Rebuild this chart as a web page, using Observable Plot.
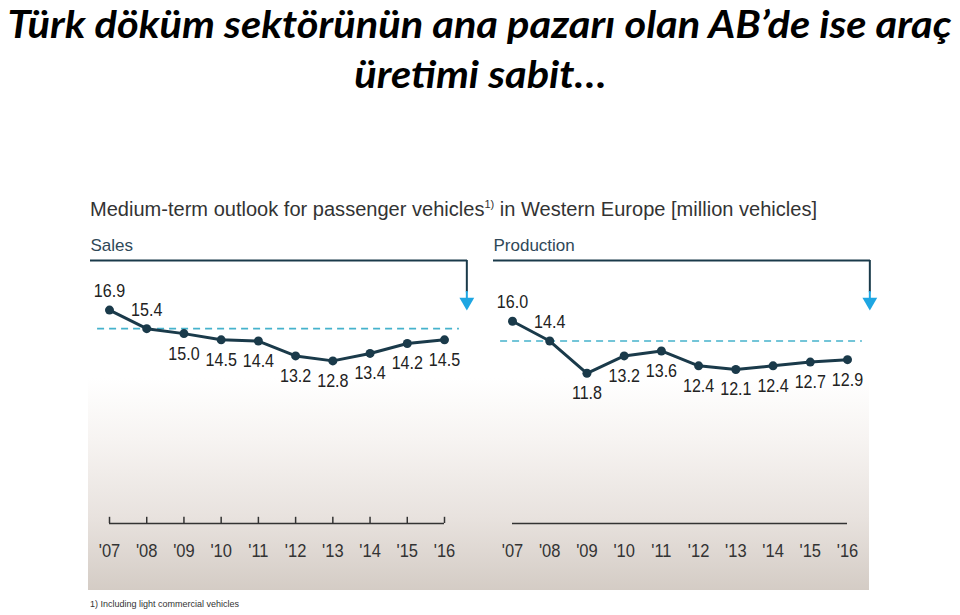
<!DOCTYPE html>
<html>
<head>
<meta charset="utf-8">
<script src="https://cdn.jsdelivr.net/npm/d3@7"></script>
<script src="https://cdn.jsdelivr.net/npm/@observablehq/plot@0.6"></script>
<style>
  html, body { margin: 0; padding: 0; background: #fff; }
  body { width: 960px; height: 615px; position: relative; overflow: hidden; }
  .tline { position: absolute; left: 0; width: 960px; text-align: center;
    font-family: Lato, "Open Sans", sans-serif; font-weight: 700; font-style: italic;
    font-size: 38px; line-height: 46px; color: #000; white-space: nowrap; }
  .tline span { display: inline-block; transform-origin: 50% 50%; }
  #t1 { top: 0px; }
  #t2 { top: 50px; }
  #panel { position: absolute; left: 88px; top: 190px; width: 781px; height: 400px;
    background: linear-gradient(to bottom, #ffffff 0%, #ffffff 47%, #f7f4f2 62%, #e8e2de 82%, #d4ccc5 100%); }
  #header { position: absolute; left: 90px; top: 198px; font-family: "Liberation Sans", Arial, sans-serif;
    font-size: 20px; color: #333; white-space: nowrap; transform-origin: 0 50%; }
  #header sup { font-size: 11px; vertical-align: 8px; line-height: 0; }
  #chart { position: absolute; left: 0; top: 230px; }
  #foot { position: absolute; left: 90px; top: 599px; font-family: "Liberation Sans", Arial, sans-serif;
    font-size: 9px; color: #333; }
</style>
</head>
<body>
<div class="tline" id="t1"><span>Türk döküm sektörünün ana pazarı olan AB’de ise araç</span></div>
<div class="tline" id="t2"><span>üretimi sabit…</span></div>
<div id="panel"></div>
<div id="header">Medium-term outlook for passenger vehicles<sup>1)</sup> in Western Europe [million vehicles]</div>
<div id="chart"></div>
<div id="foot">1) Including light commercial vehicles</div>
<script>
const years = [2007, 2008, 2009, 2010, 2011, 2012, 2013, 2014, 2015, 2016];
const tickLabels = ["'07", "'08", "'09", "'10", "'11", "'12", "'13", "'14", "'15", "'16"];
const panels = ["Sales", "Production"];
const salesValues = [16.9, 15.4, 15.0, 14.5, 14.4, 13.2, 12.8, 13.4, 14.2, 14.5];
const productionValues = [16.0, 14.4, 11.8, 13.2, 13.6, 12.4, 12.1, 12.4, 12.7, 12.9];

const seriesByPanel = { Sales: salesValues, Production: productionValues };
const rows = panels.flatMap(p => years.map((yr, i) => ({ panel: p, year: yr, value: seriesByPanel[p][i], i })));
const refRows = panels.map(p => ({ panel: p, value: seriesByPanel[p][1] }));

const firstYear = years[0], lastYear = years[years.length - 1];
const yTop = 20.9;
const navy = "#1a3a4a";
const blue = "#1ea6e2";
const font = "'Liberation Sans', Arial, sans-serif";

const chart = Plot.plot({
  width: 960,
  height: 345,
  marginLeft: 90,
  marginRight: 90,
  marginTop: 30,
  marginBottom: 52,
  style: { fontFamily: font, background: "transparent", overflow: "visible" },
  fx: { domain: panels, paddingInner: 0.065, paddingOuter: 0, axis: null, label: null },
  x: { domain: [firstYear, lastYear], insetLeft: 19, insetRight: 23, label: null },
  y: { domain: [0, yTop], insetBottom: 4, axis: null, label: null },
  marks: [
    // header rule and arrow
    Plot.ruleY(panels, { fx: d => d, y: () => yTop, stroke: navy, strokeWidth: 2 }),
    Plot.ruleX(panels, { fx: d => d, x: () => lastYear + 0.6, y1: () => yTop, y2: () => 18.3, stroke: navy, strokeWidth: 2 }),
    Plot.ruleX(panels, { fx: d => d, x: () => lastYear + 0.6, y1: () => 18.4, y2: () => 17.7, stroke: blue, strokeWidth: 2 }),
    Plot.dot(panels, { fx: d => d, x: () => lastYear + 0.6, y: () => 17.55, symbol: "triangle", rotate: 180, r: 5.5, fill: blue, stroke: "none" }),
    Plot.text(panels, { fx: d => d, text: d => d, frameAnchor: "top-left", lineAnchor: "middle", dy: -15, textAnchor: "start", fontSize: 17, fill: "#2f4858", className: "head" }),
    // reference dashed line at 2008 level
    Plot.ruleY(refRows, { fx: "panel", y: "value", x1: () => firstYear - 0.32, x2: () => lastYear + 0.4, stroke: "#45b2cc", strokeWidth: 1.6, strokeDasharray: "7,5" }),
    // data
    Plot.line(rows, { fx: "panel", x: "year", y: "value", stroke: navy, strokeWidth: 3 }),
    Plot.dot(rows, { fx: "panel", x: "year", y: "value", r: 4.5, fill: navy, stroke: "none" }),
    Plot.text(rows.filter(d => d.i < 2), { fx: "panel", x: "year", y: "value", text: d => d.value.toFixed(1), dy: -19, fontSize: 18.5, fill: "#222", className: "narrow" }),
    Plot.text(rows.filter(d => d.i >= 2), { fx: "panel", x: "year", y: "value", text: d => d.value.toFixed(1), dy: 20, fontSize: 18.5, fill: "#222", className: "narrow" }),
    // x axis
    Plot.ruleY(panels, { fx: d => d, y: () => 0, x1: () => firstYear, x2: () => lastYear, dy: 4, stroke: "#333", strokeWidth: 1.5 }),
    Plot.ruleX(years, { fx: () => "Sales", x: d => d, y1: () => 0, y2: () => 0.5, dy: 4, stroke: "#333", strokeWidth: 1.5 }),
    Plot.axisX(years, { anchor: "bottom", tickSize: 0, tickPadding: 20, fontSize: 19, fill: "#333", className: "narrow",
      tickFormat: d => tickLabels[years.indexOf(d)] })
  ]
});
document.getElementById("chart").appendChild(chart);

// condense chart labels (the source uses a narrow grotesque)
chart.querySelectorAll(".narrow text").forEach(t => {
  const len = t.getComputedTextLength();
  if (len > 0) {
    t.setAttribute("textLength", (len * 0.87).toFixed(1));
    t.setAttribute("lengthAdjust", "spacingAndGlyphs");
  }
});

// fit header width like the reference
const header = document.getElementById("header");
const hw = header.getBoundingClientRect().width;
if (hw > 0) header.style.transform = `scaleX(${727 / hw})`;

// fit title width like the reference
const s1 = document.querySelector("#t1 span");
const s2 = document.querySelector("#t2 span");
const w1 = s1.getBoundingClientRect().width;
if (w1 > 0) {
  const k = 944 / w1;
  s1.style.transform = `scaleX(${k})`;
  s2.style.transform = `scaleX(${k})`;
}
</script>
</body>
</html>
